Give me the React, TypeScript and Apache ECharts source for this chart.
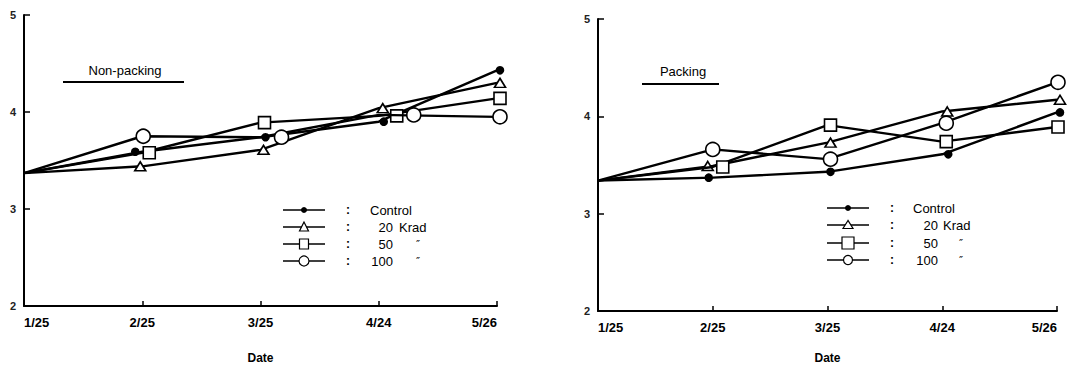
import React, { useEffect, useRef } from "react";
import * as echarts from "echarts";

const dates = ["1/25", "2/25", "3/25", "4/24", "5/26"];
const yMin = 2;
const yMax = 5;
const yStep = 1;
const groupNames = ["Control", "20 Krad", "50", "100"];
const panelTitles = ["Non-packing", "Packing"];

const nonPackControl = [3.37, 3.59, 3.74, 3.9, 4.43];
const nonPack20 = [3.37, 3.44, 3.61, 4.04, 4.3];
const nonPack50 = [3.37, 3.58, 3.89, 3.96, 4.14];
const nonPack100 = [3.37, 3.75, 3.74, 3.97, 3.95];

const packControl = [3.34, 3.37, 3.43, 3.61, 4.04];
const pack20 = [3.34, 3.49, 3.73, 4.05, 4.17];
const pack50 = [3.34, 3.48, 3.91, 3.74, 3.89];
const pack100 = [3.34, 3.66, 3.56, 3.93, 4.35];

// ---- styling (not data) ----
const FONT = '"Liberation Sans", Arial, sans-serif';
const markerStyles = [
  { symbol: "circle", size: 7, fill: "#000" },
  { symbol: "triangle", size: [11, 9], fill: "#fff" },
  { symbol: "rect", size: 12, fill: "#fff" },
  { symbol: "circle", size: 14, fill: "#fff" },
];
// horizontal marker shifts (px) used in the original to separate overlapping marks
const leftShift = [
  [0, -7, 5, 5, 3],
  [0, -2, 3, 4, 3],
  [0, 7, 4, 18, 3],
  [0, 1, 21, 35, 3],
];
const rightShift = [
  [0, -4, 3, 6, 3],
  [0, -5, 3, 5, 3],
  [0, 10, 3, 4, 1],
  [0, 0, 3, 4, 1],
];

function buildSeries(values: number[][], shifts: number[][], axis: number) {
  return values.map((vals, s) => ({
    type: "line",
    name: groupNames[s],
    xAxisIndex: axis,
    yAxisIndex: axis,
    data: vals.map((v, i) =>
      i === 0
        ? { value: v, symbol: "none" }
        : { value: v, symbolOffset: [shifts[s][i], 0] }
    ),
    symbol: markerStyles[s].symbol,
    symbolSize: markerStyles[s].size,
    showAllSymbol: true,
    silent: true,
    lineStyle: { color: "#000", width: 2.4 },
    itemStyle: { color: markerStyles[s].fill, borderColor: "#000", borderWidth: 1.6 },
    emphasis: { disabled: true },
    z: 2 + s,
  }));
}

function legendGraphics(
  lx: number,
  rows: number[],
  colonX: number,
  textX: number,
  numRight: number,
  kradX: number,
  dittoX: number,
  sizes: number[][]
) {
  const els: any[] = [];
  const mx = lx + 21;
  rows.forEach((y, i) => {
    els.push({
      type: "line",
      shape: { x1: lx, y1: y, x2: lx + 42, y2: y },
      style: { stroke: "#000", lineWidth: 1.5 },
      z: 10,
    });
    const [w, h] = sizes[i];
    if (i === 0) {
      els.push({ type: "circle", shape: { cx: mx, cy: y, r: w / 2 }, style: { fill: "#000" }, z: 11 });
    } else if (i === 1) {
      els.push({
        type: "polygon",
        shape: { points: [[mx, y - h / 2 - 1], [mx - w / 2, y + h / 2], [mx + w / 2, y + h / 2]] },
        style: { fill: "#fff", stroke: "#000", lineWidth: 1.2 },
        z: 11,
      });
    } else if (i === 2) {
      els.push({
        type: "rect",
        shape: { x: mx - w / 2, y: y - h / 2, width: w, height: h },
        style: { fill: "#fff", stroke: "#000", lineWidth: 1.2 },
        z: 11,
      });
    } else {
      els.push({
        type: "circle",
        shape: { cx: mx, cy: y, r: w / 2 },
        style: { fill: "#fff", stroke: "#000", lineWidth: 1.2 },
        z: 11,
      });
    }
    els.push({
      type: "text",
      x: colonX,
      y,
      style: { text: ":", font: `bold 12px ${FONT}`, fill: "#000", align: "center", verticalAlign: "middle" },
      z: 11,
    });
  });
  const txt = (text: string, x: number, y: number, align: string, size = 13, family = FONT) => ({
    type: "text",
    x,
    y,
    style: { text, font: `${size}px ${family}`, fill: "#000", align, verticalAlign: "middle" },
    z: 11,
  });
  els.push(txt(groupNames[0], textX, rows[0], "left"));
  els.push(txt("20", numRight, rows[1], "right"));
  els.push(txt("Krad", kradX, rows[1], "left"));
  els.push(txt(groupNames[2], numRight, rows[2], "right"));
  els.push(txt("\u2033", dittoX, rows[2], "center", 11, '"DejaVu Sans", sans-serif'));
  els.push(txt(groupNames[3], numRight, rows[3], "right"));
  els.push(txt("\u2033", dittoX, rows[3], "center", 11, '"DejaVu Sans", sans-serif'));
  return els;
}

function axisPair(idx: number, nameGap: number) {
  const x = {
    type: "category",
    gridIndex: idx,
    data: dates,
    boundaryGap: false,
    axisLine: { show: true, lineStyle: { color: "#000", width: 2 } },
    axisTick: { show: true, inside: true, length: 5, alignWithLabel: true, lineStyle: { color: "#000", width: 1.5 } },
    axisLabel: {
      color: "#000",
      fontSize: 13,
      fontWeight: "bold",
      fontFamily: FONT,
      margin: 10,
      alignMinLabel: "left",
      alignMaxLabel: "right",
    },
    splitLine: { show: false },
    name: "Date",
    nameLocation: "middle",
    nameGap,
    nameTextStyle: { color: "#000", fontSize: 12, fontWeight: "bold", fontFamily: FONT },
  };
  const y = {
    type: "value",
    gridIndex: idx,
    min: yMin,
    max: yMax,
    interval: yStep,
    axisLine: { show: true, lineStyle: { color: "#000", width: 2 } },
    axisTick: { show: true, inside: true, length: 6, lineStyle: { color: "#000", width: 1.5 } },
    axisLabel: { color: "#222", fontSize: 11, fontWeight: "bold", fontFamily: FONT, margin: 8 },
    splitLine: { show: false },
  };
  return { x, y };
}

export default function App() {
  const ref = useRef<HTMLDivElement>(null);
  useEffect(() => {
    if (!ref.current) return;
    const chart = echarts.init(ref.current, null, { renderer: "svg" });
    const a0 = axisPair(0, 46);
    const a1 = axisPair(1, 41);
    const graphic: any[] = [
      {
        type: "text",
        x: 125,
        y: 70,
        style: { text: panelTitles[0], font: `13px ${FONT}`, fill: "#000", align: "center", verticalAlign: "middle" },
      },
      { type: "line", shape: { x1: 63, y1: 82, x2: 184, y2: 82 }, style: { stroke: "#000", lineWidth: 1.8 } },
      {
        type: "text",
        x: 683,
        y: 71,
        style: { text: panelTitles[1], font: `13px ${FONT}`, fill: "#000", align: "center", verticalAlign: "middle" },
      },
      { type: "line", shape: { x1: 642, y1: 84, x2: 719, y2: 84 }, style: { stroke: "#000", lineWidth: 1.8 } },
      ...legendGraphics(283, [210, 227, 244, 261], 348, 370, 393, 399, 418, [[6, 6], [9, 8], [9, 10], [10, 10]]),
      ...legendGraphics(827, [208, 225, 243, 260], 892, 913, 938, 943, 961, [[6, 6], [10, 7], [12, 12], [9, 9]]),
    ];
    chart.setOption({
      animation: false,
      backgroundColor: "#fff",
      grid: [
        { left: 24, top: 15, width: 473, height: 292 },
        { left: 598, top: 19, width: 459, height: 294 },
      ],
      xAxis: [a0.x, a1.x],
      yAxis: [a0.y, a1.y],
      series: [
        ...buildSeries([nonPackControl, nonPack20, nonPack50, nonPack100], leftShift, 0),
        ...buildSeries([packControl, pack20, pack50, pack100], rightShift, 1),
      ],
      graphic,
    });
    return () => chart.dispose();
  }, []);
  return (
    <div
      ref={ref}
      style={{ position: "fixed", left: 0, top: 0, width: 1090, height: 369, background: "#fff" }}
    />
  );
}
